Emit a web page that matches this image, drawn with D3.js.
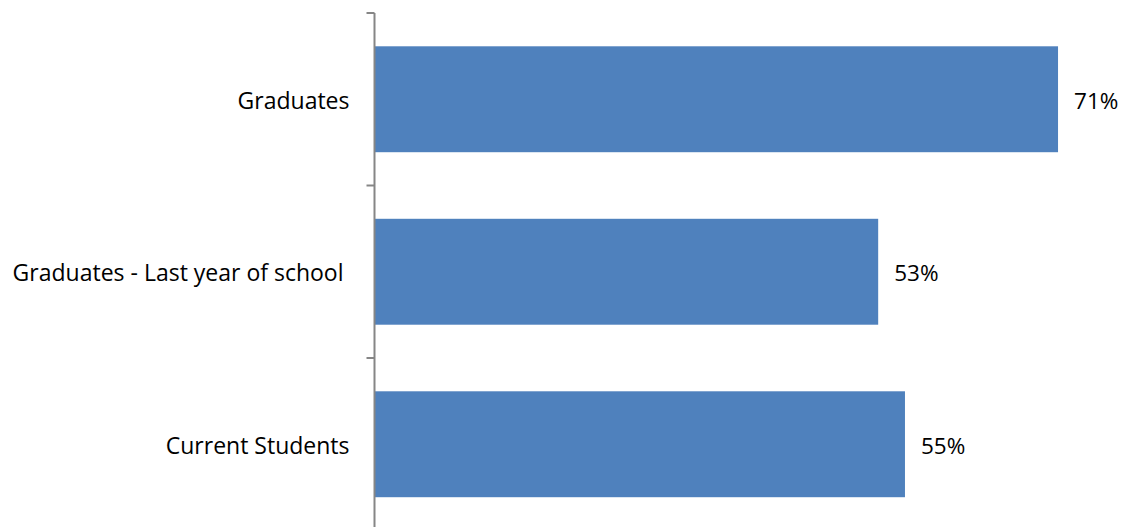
<!DOCTYPE html>
<html>
<head>
<meta charset="utf-8">
<script src="https://cdn.jsdelivr.net/npm/d3@7"></script>
<style>
  body { margin: 0; background: #fff; }
  svg { display: block; }
  text { font-family: "Open Sans", "Noto Sans", sans-serif; fill: #000; white-space: pre; }
</style>
</head>
<body>
<svg id="chart" width="1125" height="527"></svg>
<script>
	// data (the middle label has a trailing space in the source)
	const categories = ['Graduates', 'Graduates - Last year of school ', 'Current Students'];
	const shares = [0.714, 0.526, 0.554];

	const svg = d3.select('#chart');
	const axisX = 375;

	let y = d3.scaleBand()
		.domain(categories)
		.range([13, 530.5])
		.paddingInner(0.386)
		.paddingOuter(0.193);

	let x = d3.scaleLinear()
		.domain([0, 0.8])
		.range([axisX, axisX + 765.3]);

	// bars
	svg.append('g').selectAll('rect')
		.data(categories)
		.enter().append('rect')
		.attr('x', x(0))
		.attr('y', d => y(d))
		.attr('width', (d, i) => x(shares[i]) - x(0))
		.attr('height', y.bandwidth())
		.attr('fill', '#4f81bd');

	// value labels
	let fmt = d3.format('.0%');
	svg.append('g').selectAll('text')
		.data(categories)
		.enter().append('text')
		.attr('x', (d, i) => x(shares[i]) + 16)
		.attr('y', d => y(d) + y.bandwidth() / 2 + 1.5)
		.attr('dy', '0.35em')
		.style('font-size', '22.5px')
		.text((d, i) => fmt(shares[i]));

	// category axis, ticks sit between the bands
	let axis = svg.append('g').attr('transform', 'translate(' + (axisX - 0.5) + ',0)');
	axis.call(d3.axisLeft(y).tickSize(0).tickPadding(25))
		.call(g => g.select('.domain').remove());
	axis.selectAll('.tick text')
		.style('font-size', '23px')
		.attr('dy', '0.42em')
		.attr('fill', '#000')
		.attr('font-family', null);

	axis.append('line')
		.attr('x1', 0).attr('x2', 0)
		.attr('y1', y.range()[0]).attr('y2', y.range()[1])
		.attr('stroke', '#868686').attr('stroke-width', 2);

	let bounds = d3.range(categories.length + 1).map(i => y.range()[0] + i * y.step());
	axis.selectAll('.bound')
		.data(bounds)
		.enter().append('line')
		.attr('class', 'bound')
		.attr('x1', -8).attr('x2', 0)
		.attr('y1', d => d).attr('y2', d => d)
		.attr('stroke', '#868686').attr('stroke-width', 2);
</script>
</body>
</html>
